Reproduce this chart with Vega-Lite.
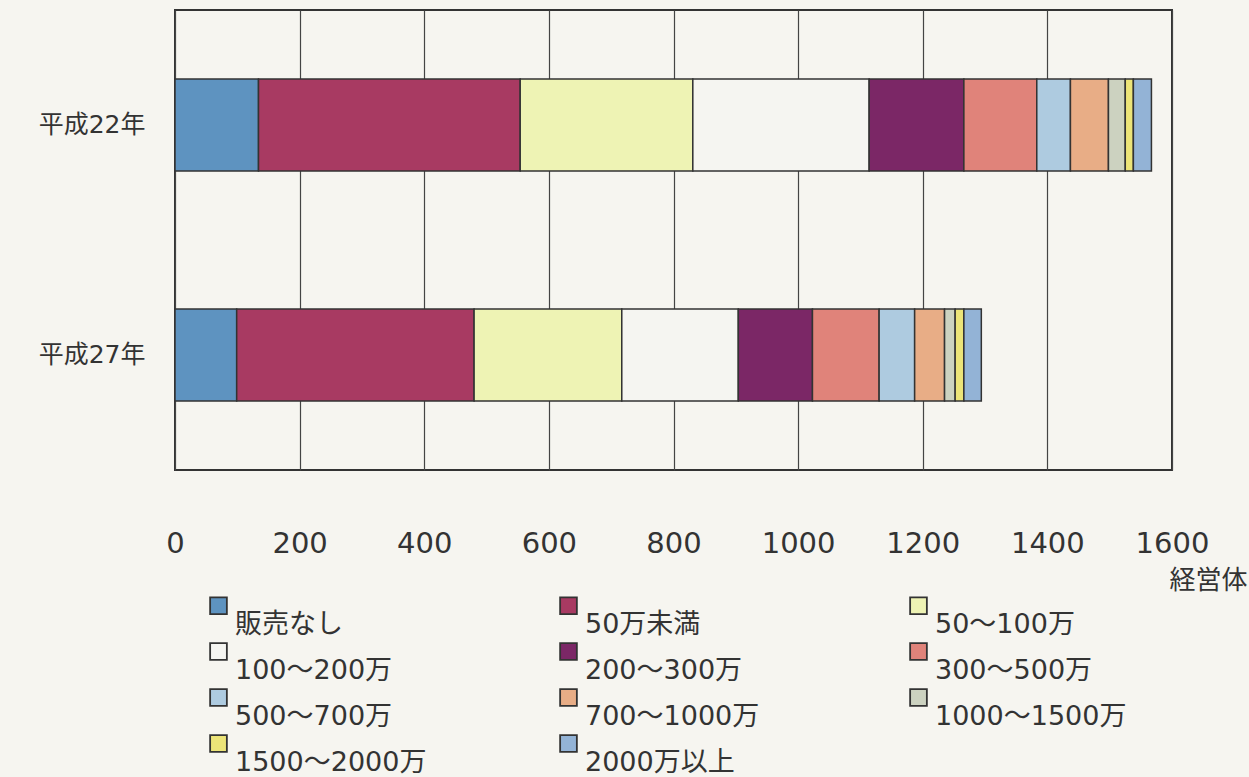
{
  "$schema": "https://vega.github.io/schema/vega-lite/v6.json",
  "width": 997,
  "height": 460,
  "autosize": {"type": "none"},
  "padding": {"left": 175, "top": 10, "right": 77, "bottom": 307},
  "background": "#f6f5f0",
  "config": {
    "font": "DejaVu Sans, Noto Sans CJK JP",
    "view": {"stroke": "#333333", "strokeWidth": 2, "fill": "#f6f5f0"}
  },
  "data": {
    "values": [
      {"year": "平成22年", "k": 1, "cls": "販売なし", "n": 134},
      {"year": "平成22年", "k": 2, "cls": "50万未満", "n": 420},
      {"year": "平成22年", "k": 3, "cls": "50～100万", "n": 277},
      {"year": "平成22年", "k": 4, "cls": "100～200万", "n": 283},
      {"year": "平成22年", "k": 5, "cls": "200～300万", "n": 152},
      {"year": "平成22年", "k": 6, "cls": "300～500万", "n": 117},
      {"year": "平成22年", "k": 7, "cls": "500～700万", "n": 54},
      {"year": "平成22年", "k": 8, "cls": "700～1000万", "n": 61},
      {"year": "平成22年", "k": 9, "cls": "1000～1500万", "n": 27},
      {"year": "平成22年", "k": 10, "cls": "1500～2000万", "n": 13},
      {"year": "平成22年", "k": 11, "cls": "2000万以上", "n": 29},
      {"year": "平成27年", "k": 1, "cls": "販売なし", "n": 99},
      {"year": "平成27年", "k": 2, "cls": "50万未満", "n": 381},
      {"year": "平成27年", "k": 3, "cls": "50～100万", "n": 237},
      {"year": "平成27年", "k": 4, "cls": "100～200万", "n": 187},
      {"year": "平成27年", "k": 5, "cls": "200～300万", "n": 119},
      {"year": "平成27年", "k": 6, "cls": "300～500万", "n": 107},
      {"year": "平成27年", "k": 7, "cls": "500～700万", "n": 57},
      {"year": "平成27年", "k": 8, "cls": "700～1000万", "n": 48},
      {"year": "平成27年", "k": 9, "cls": "1000～1500万", "n": 17},
      {"year": "平成27年", "k": 10, "cls": "1500～2000万", "n": 14},
      {"year": "平成27年", "k": 11, "cls": "2000万以上", "n": 28}
    ]
  },
  "mark": {"type": "bar", "stroke": "#333333", "strokeWidth": 1.5},
  "encoding": {
    "order": {"field": "k", "type": "quantitative", "sort": "ascending"},
    "y": {
      "field": "year",
      "type": "nominal",
      "sort": ["平成22年", "平成27年"],
      "scale": {"paddingInner": 0.6, "paddingOuter": 0.3},
      "axis": {
        "title": null,
        "domain": false,
        "ticks": false,
        "labelFontSize": 25,
        "labelColor": "#333333",
        "labelPadding": 30
      }
    },
    "x": {
      "field": "n",
      "type": "quantitative",
      "stack": "zero",
      "scale": {"domain": [0, 1600], "nice": false},
      "axis": {
        "title": "経営体",
        "titleFontSize": 26,
        "titleFontWeight": "normal",
        "titleColor": "#333333",
        "titleAnchor": "end",
        "titleAlign": "right",
        "titleBaseline": "middle",
        "titleX": 1072,
        "titleY": 110,
        "values": [0, 200, 400, 600, 800, 1000, 1200, 1400, 1600],
        "format": "d",
        "domain": false,
        "ticks": false,
        "grid": true,
        "gridColor": "#444444",
        "gridWidth": 1.2,
        "gridOpacity": 1,
        "labelFontSize": 29,
        "labelColor": "#333333",
        "labelPadding": 59,
        "labelFlush": false
      }
    },
    "color": {
      "field": "cls",
      "type": "nominal",
      "sort": ["販売なし", "50万未満", "50～100万", "100～200万", "200～300万", "300～500万", "500～700万", "700～1000万", "1000～1500万", "1500～2000万", "2000万以上"],
      "scale": {
        "domain": ["販売なし", "50万未満", "50～100万", "100～200万", "200～300万", "300～500万", "500～700万", "700～1000万", "1000～1500万", "1500～2000万", "2000万以上"],
        "range": ["#5e93c0", "#a83a62", "#eef3b4", "#f5f5f1", "#7b2766", "#e0837a", "#aecbe0", "#e8ad86", "#ccd2c0", "#ece478", "#93b3d6"]
      },
      "legend": {
        "title": null,
        "orient": "none",
        "legendX": 30,
        "legendY": 582,
        "direction": "horizontal",
        "columns": 3,
        "gridAlign": "all",
        "columnPadding": 128,
        "rowPadding": 0,
        "padding": 0,
        "symbolType": "square",
        "symbolSize": 280,
        "symbolStrokeColor": "#333333",
        "symbolStrokeWidth": 1.8,
        "symbolOpacity": 1,
        "labelFontSize": 27,
        "labelColor": "#333333",
        "labelOffset": 3,
        "labelLimit": 300,
        "encode": {
          "labels": {"update": {"dy": {"value": 19}}}
        }
      }
    }
  }
}
